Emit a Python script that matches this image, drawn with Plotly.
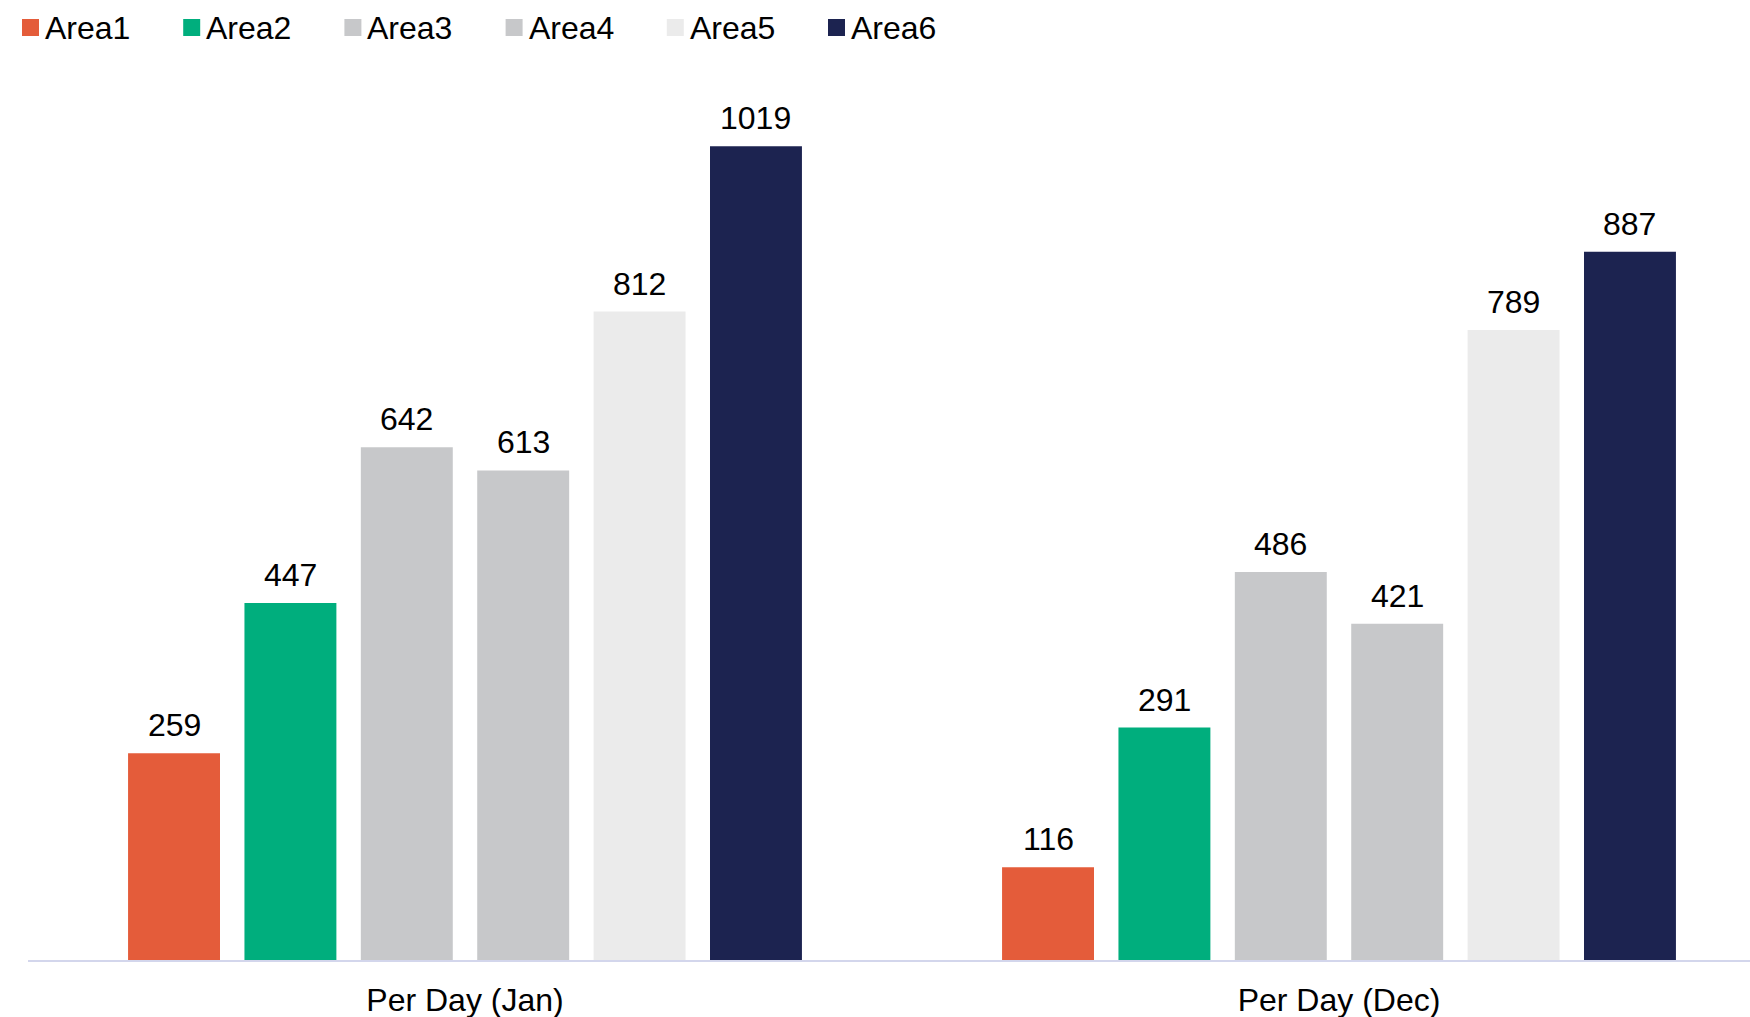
import plotly.graph_objects as go

# Chart data
categories = ["Per Day (Jan)", "Per Day (Dec)"]
series_names = ["Area1", "Area2", "Area3", "Area4", "Area5", "Area6"]
area1 = [259, 116]
area2 = [447, 291]
area3 = [642, 486]
area4 = [613, 421]
area5 = [812, 789]
area6 = [1019, 887]
series_values = [area1, area2, area3, area4, area5, area6]
colors = ["#E45C3A", "#00AE7D", "#C7C8CA", "#C7C8CA", "#EBEBEB", "#1C2350"]

FONT = "Liberation Sans, Arial, sans-serif"
FS = 32
W, H = 1750, 1017
ML, MR, MT, MB = 28, 0, 80, 57
PLOT_W = W - ML - MR
PLOT_H = H - MT - MB
CAT_PX = 874.0          # pixel width of one category slot
BARGAP = 0.201
BARGROUPGAP = 0.21

fig = go.Figure()
for name, vals, col in zip(series_names, series_values, colors):
    fig.add_trace(go.Bar(
        name=name,
        x=categories,
        y=vals,
        marker=dict(color=col, line=dict(width=0)),
        showlegend=False,
    ))

# Value labels above each bar
n = len(series_names)
slot_px = CAT_PX * (1 - BARGAP) / n
for i, vals in enumerate(series_values):
    for cat, v in zip(categories, vals):
        fig.add_annotation(
            x=cat, y=v, xref="x", yref="y",
            xshift=(i - (n - 1) / 2) * slot_px,
            yshift=8, xanchor="center", yanchor="bottom",
            showarrow=False, text=str(v),
            font=dict(family=FONT, size=FS, color="#000000"),
        )

# Legend row: colored squares with labels
step_px = 161.2
sq = 17
for i, (name, col) in enumerate(zip(series_names, colors)):
    x0 = 22 + i * step_px
    fig.add_shape(
        type="rect", xref="paper", yref="paper",
        x0=(x0 - ML) / PLOT_W, x1=(x0 + sq - ML) / PLOT_W,
        y0=(H - MB - 36) / PLOT_H, y1=(H - MB - 19) / PLOT_H,
        fillcolor=col, line=dict(width=0),
    )
    fig.add_annotation(
        xref="paper", yref="paper",
        x=(x0 + sq + 4 - ML) / PLOT_W, y=(H - MB - 28) / PLOT_H,
        xanchor="left", yanchor="middle", showarrow=False,
        text=name, font=dict(family=FONT, size=FS, color="#000000"),
    )

# Category axis is wider than the visible area on the right
span = PLOT_W / CAT_PX
fig.update_layout(
    width=W, height=H,
    margin=dict(l=ML, r=MR, t=MT, b=MB),
    paper_bgcolor="white", plot_bgcolor="white",
    barmode="group", bargap=BARGAP, bargroupgap=BARGROUPGAP,
    font=dict(family=FONT, size=FS, color="#000000"),
    xaxis=dict(
        range=[-0.5, -0.5 + span],
        showgrid=False, zeroline=False,
        showline=True, linecolor="#D3D6EC", linewidth=2,
        ticks="", ticklabelstandoff=11,
        tickfont=dict(family=FONT, size=FS, color="#000000"),
    ),
    yaxis=dict(
        range=[0, PLOT_H / 0.7986],
        visible=False, showgrid=False, zeroline=False,
    ),
)

fig.write_html("out.html")
